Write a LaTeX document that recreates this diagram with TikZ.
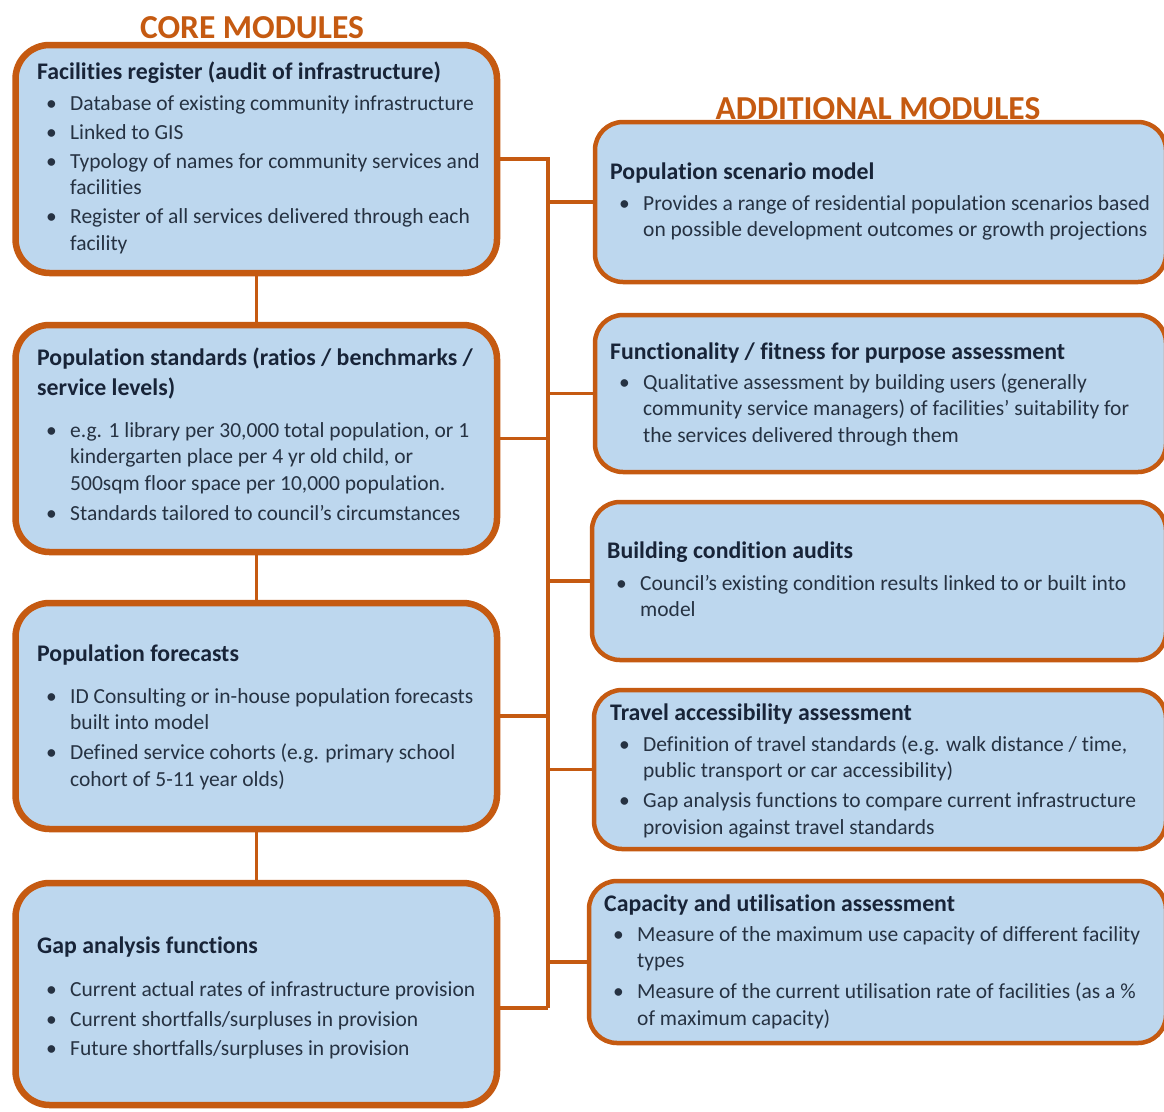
\documentclass[tikz,border=0pt]{standalone}
\usepackage{fontspec}
\setmainfont{Carlito}[Ligatures=NoCommon]
\usepackage{array}
\definecolor{borange}{RGB}{197,90,17}
\definecolor{bfill}{RGB}{189,215,238}
\definecolor{ttl}{RGB}{24,36,56}
\definecolor{txt}{RGB}{38,50,66}
\newcommand{\bu}{\makebox[33pt][l]{\hspace{9pt}\textbullet}}
\newcommand{\ttlrow}[1]{\multicolumn{2}{@{}l@{}}{\fontsize{23.8}{26.5}\selectfont\bfseries\color{ttl}#1}}
\begin{document}
\begin{tikzpicture}[x=1pt,y=-1pt,
 lbox/.style={draw=borange,line width=6.5pt,fill=bfill,rounded corners=34pt,minimum width=481.5pt,inner sep=0pt},
 rbox/.style={draw=borange,line width=4.5pt,fill=bfill,rounded corners=28pt,inner sep=0pt},
 link/.style={draw=borange,line width=3.5pt},
 txtl/.style={anchor=base west,inner sep=0pt,font=\fontsize{21.5}{26.5}\selectfont,text=txt},
 txtr/.style={anchor=base west,inner sep=0pt,font=\fontsize{21.5}{26.5}\selectfont,text=txt},
 hdr/.style={font=\fontsize{33.5}{40}\selectfont\bfseries,text=borange,anchor=base,inner sep=0pt}]
\useasboundingbox[fill=white] (0,0) rectangle (1164,1111);

% left boxes
\node[lbox,minimum height=228pt] (L1) at (256.25,159) {};
\node[lbox,minimum height=227pt] (L2) at (256.25,438.5) {};
\node[lbox,minimum height=226pt] (L3) at (256.25,716) {};
\node[lbox,minimum height=222pt] (L4) at (256.25,994) {};
% right boxes
\node[rbox,minimum width=571pt,minimum height=160pt] (R1) at (880.5,202) {};
\node[rbox,minimum width=571pt,minimum height=157pt] (R2) at (880.5,393.5) {};
\node[rbox,minimum width=574pt,minimum height=158pt] (R3) at (879,581) {};
\node[rbox,minimum width=572pt,minimum height=159pt] (R4) at (880,769.5) {};
\node[rbox,minimum width=577pt,minimum height=162pt] (R5) at (877.5,962) {};

% connectors
\coordinate (T) at (548,1008);
\draw[link] (L1.south) -- (L2.north);
\draw[link] (L2.south) -- (L3.north);
\draw[link] (L3.south) -- (L4.north);
\draw[link] (L1.east) -| (T);
\draw[link] ([yshift=-14pt]L4.east) -- (T);
\draw[link] (L2.east) -- (L2.east -| T);
\draw[link] (L3.east) -- (L3.east -| T);
\draw[link] (R1.west) -- (R1.west -| T);
\draw[link] (R2.west) -- (R2.west -| T);
\draw[link] (R3.west) -- (R3.west -| T);
\draw[link] (R4.west) -- (R4.west -| T);
\draw[link] (R5.west) -- (R5.west -| T);

% headers
\node[hdr] (core) at (252,38) {CORE MODULES};
\node[hdr] (addl) at (878,119) {ADDITIONAL MODULES};

% texts left
\node[txtl] (L1t) at (37,79) {\begin{tabular}[t]{@{}l@{}l@{}}
\ttlrow{Facilities register (audit of infrastructure)}\\[4.5pt]
\bu & Database of existing community infrastructure\\[2.5pt]
\bu & Linked to GIS\\[2.5pt]
\bu & Typology of names for community services and\\
 & facilities\\[2.5pt]
\bu & Register of all services delivered through each\\
 & facility
\end{tabular}};
\node[txtl] (L2t) at (37,365) {\begin{tabular}[t]{@{}l@{}l@{}}
\ttlrow{Population standards (ratios / benchmarks /}\\[3.5pt]
\ttlrow{service levels)}\\[15.5pt]
\bu & e.g. 1 library per 30,000 total population, or 1\\
 & kindergarten place per 4 yr old child, or\\
 & 500sqm floor space per 10,000 population.\\[3.5pt]
\bu & Standards tailored to council’s circumstances
\end{tabular}};
\node[txtl] (L3t) at (37,661) {\begin{tabular}[t]{@{}l@{}l@{}}
\ttlrow{Population forecasts}\\[15.5pt]
\bu & ID Consulting or in-house population forecasts\\
 & built into model\\[3.5pt]
\bu & Defined service cohorts (e.g. primary school\\
 & cohort of 5-11 year olds)
\end{tabular}};
\node[txtl] (L4t) at (37,953) {\begin{tabular}[t]{@{}l@{}l@{}}
\ttlrow{Gap analysis functions}\\[16.5pt]
\bu & Current actual rates of infrastructure provision\\[3.5pt]
\bu & Current shortfalls/surpluses in provision\\[3pt]
\bu & Future shortfalls/surpluses in provision
\end{tabular}};

% texts right
\node[txtr] (R1t) at (610,179) {\begin{tabular}[t]{@{}l@{}l@{}}
\ttlrow{Population scenario model}\\[4.5pt]
\bu & Provides a range of residential population scenarios based\\
 & on possible development outcomes or growth projections
\end{tabular}};
\node[txtr] (R2t) at (610,359) {\begin{tabular}[t]{@{}l@{}l@{}}
\ttlrow{Functionality / fitness for purpose assessment}\\[3.5pt]
\bu & Qualitative assessment by building users (generally\\
 & community service managers) of facilities’ suitability for\\
 & the services delivered through them
\end{tabular}};
\node[txtr] (R3t) at (607,558) {\begin{tabular}[t]{@{}l@{}l@{}}
\ttlrow{Building condition audits}\\[5.5pt]
\bu & Council’s existing condition results linked to or built into\\
 & model
\end{tabular}};
\node[txtr] (R4t) at (610,720) {\begin{tabular}[t]{@{}l@{}l@{}}
\ttlrow{Travel accessibility assessment}\\[4.5pt]
\bu & Definition of travel standards (e.g. walk distance / time,\\
 & public transport or car accessibility)\\[3.5pt]
\bu & Gap analysis functions to compare current infrastructure\\
 & provision against travel standards
\end{tabular}};
\node[txtr] (R5t) at (604,911) {\begin{tabular}[t]{@{}l@{}l@{}}
\ttlrow{Capacity and utilisation assessment}\\[3.5pt]
\bu & Measure of the maximum use capacity of different facility\\
 & types\\[4.5pt]
\bu & Measure of the current utilisation rate of facilities (as a \%\\
 & of maximum capacity)
\end{tabular}};
\end{tikzpicture}
\end{document}
